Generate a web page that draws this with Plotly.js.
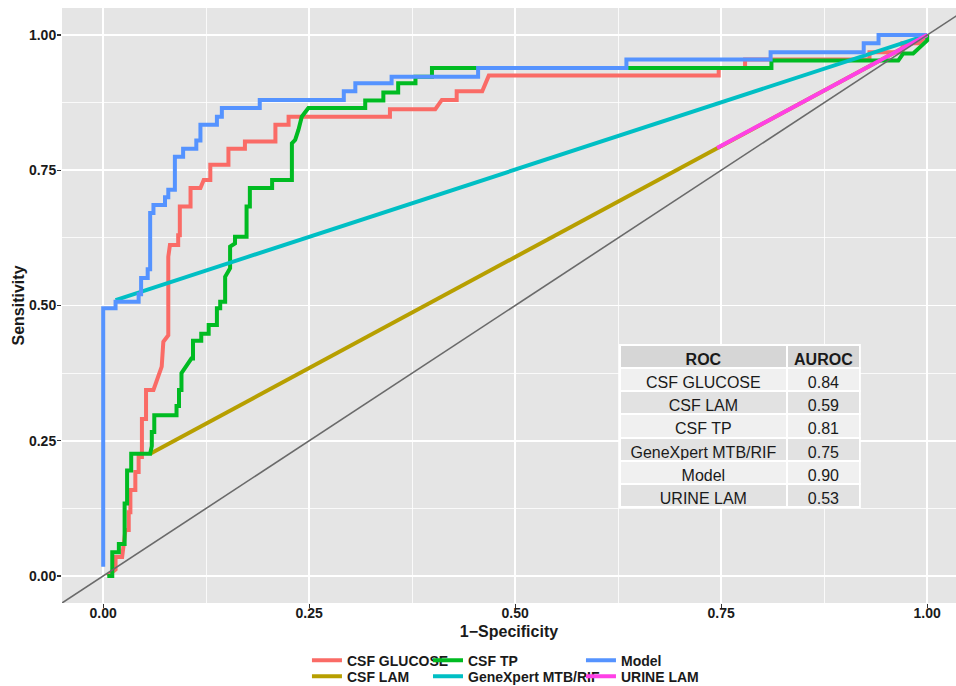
<!DOCTYPE html>
<html>
<head>
<meta charset="utf-8">
<script src="https://cdn.plot.ly/plotly-3.0.1.min.js"></script>
<style>
  html, body { margin: 0; padding: 0; background: #ffffff; }
  #chart { width: 956px; height: 686px; }
</style>
</head>
<body>
<div id="chart"></div>
<script>
// ---------- data ----------
const seriesNames = ['CSF GLUCOSE', 'CSF LAM', 'CSF TP', 'GeneXpert MTB/RIF', 'Model', 'URINE LAM'];

const glucoseFPR = [0.005, 0.015, 0.015, 0.023, 0.027, 0.031, 0.031, 0.033, 0.033, 0.039, 0.039, 0.043, 0.043, 0.047, 0.047, 0.052, 0.052, 0.061, 0.071, 0.073, 0.079, 0.079, 0.081, 0.091, 0.091, 0.093, 0.093, 0.106, 0.106, 0.118, 0.122, 0.130, 0.130, 0.152, 0.152, 0.172, 0.172, 0.209, 0.209, 0.225, 0.225, 0.348, 0.348, 0.403, 0.411, 0.429, 0.429, 0.460, 0.468, 0.747, 0.747, 0.779, 0.779, 0.930, 0.930, 0.970, 0.970, 0.990, 1];
const glucoseTPR = [0.000, 0.012, 0.035, 0.035, 0.085, 0.085, 0.118, 0.118, 0.159, 0.159, 0.192, 0.192, 0.220, 0.220, 0.290, 0.290, 0.344, 0.344, 0.387, 0.433, 0.445, 0.590, 0.612, 0.612, 0.630, 0.630, 0.683, 0.683, 0.717, 0.717, 0.732, 0.732, 0.760, 0.760, 0.790, 0.790, 0.803, 0.803, 0.834, 0.834, 0.849, 0.849, 0.863, 0.863, 0.880, 0.880, 0.896, 0.896, 0.925, 0.925, 0.939, 0.939, 0.955, 0.955, 0.968, 0.968, 0.985, 0.985, 1];

const lamFPR = [0.057, 1];
const lamTPR = [0.226, 1];

const tpFPR = [0.005, 0.011, 0.011, 0.019, 0.019, 0.026, 0.026, 0.029, 0.029, 0.034, 0.034, 0.057, 0.059, 0.059, 0.062, 0.062, 0.089, 0.089, 0.092, 0.092, 0.095, 0.095, 0.107, 0.109, 0.109, 0.119, 0.119, 0.128, 0.128, 0.138, 0.138, 0.142, 0.142, 0.148, 0.148, 0.154, 0.154, 0.160, 0.160, 0.174, 0.174, 0.178, 0.178, 0.205, 0.205, 0.229, 0.229, 0.233, 0.237, 0.241, 0.249, 0.318, 0.318, 0.340, 0.340, 0.358, 0.358, 0.379, 0.379, 0.399, 0.399, 0.811, 0.811, 0.965, 0.971, 0.983, 0.993, 1, 1];
const tpTPR  = [0.000, 0.000, 0.044, 0.044, 0.059, 0.059, 0.134, 0.134, 0.195, 0.195, 0.226, 0.226, 0.240, 0.266, 0.266, 0.297, 0.297, 0.314, 0.314, 0.344, 0.344, 0.375, 0.402, 0.402, 0.435, 0.435, 0.448, 0.448, 0.464, 0.464, 0.495, 0.495, 0.507, 0.507, 0.553, 0.569, 0.609, 0.615, 0.627, 0.627, 0.683, 0.683, 0.717, 0.717, 0.732, 0.732, 0.800, 0.806, 0.825, 0.849, 0.865, 0.865, 0.879, 0.879, 0.894, 0.894, 0.911, 0.911, 0.923, 0.923, 0.939, 0.939, 0.953, 0.953, 0.966, 0.966, 0.980, 0.990, 1];

const geneFPR = [0.015, 1];
const geneTPR = [0.510, 1];

const modelFPR = [0, 0, 0.015, 0.015, 0.043, 0.043, 0.046, 0.046, 0.054, 0.054, 0.057, 0.057, 0.061, 0.061, 0.075, 0.075, 0.079, 0.079, 0.087, 0.087, 0.097, 0.097, 0.113, 0.113, 0.118, 0.118, 0.138, 0.138, 0.144, 0.144, 0.190, 0.190, 0.292, 0.292, 0.306, 0.306, 0.350, 0.350, 0.455, 0.455, 0.635, 0.635, 0.810, 0.810, 0.923, 0.923, 0.941, 0.941, 1];
const modelTPR = [0.017, 0.495, 0.495, 0.507, 0.507, 0.521, 0.521, 0.551, 0.551, 0.567, 0.567, 0.671, 0.671, 0.686, 0.686, 0.700, 0.700, 0.714, 0.714, 0.775, 0.775, 0.790, 0.790, 0.805, 0.805, 0.834, 0.834, 0.849, 0.849, 0.865, 0.865, 0.880, 0.880, 0.896, 0.896, 0.911, 0.911, 0.923, 0.923, 0.939, 0.939, 0.955, 0.955, 0.968, 0.968, 0.985, 0.985, 1, 1];

const urineFPR = [0.745, 1];
const urineTPR = [0.791, 1];

const chanceX = [-0.1, 1.1];
const chanceY = [-0.1, 1.1];

const tableHeader = ['ROC', 'AUROC'];
const tableMethods = ['CSF GLUCOSE', 'CSF LAM', 'CSF TP', 'GeneXpert MTB/RIF', 'Model', 'URINE LAM'];
const tableAUROC = ['0.84', '0.59', '0.81', '0.75', '0.90', '0.53'];

const tickValues = [0, 0.25, 0.5, 0.75, 1];
const tickLabels = ['0.00', '0.25', '0.50', '0.75', '1.00'];
const minorTickValues = [0.125, 0.375, 0.625, 0.875];

// ---------- styling ----------
const FONT = 'Liberation Sans, Arial, Helvetica, sans-serif';
const colors = {
  'CSF GLUCOSE': '#FA6B66',
  'CSF LAM': '#B79F00',
  'CSF TP': '#00BB22',
  'GeneXpert MTB/RIF': '#00BFC4',
  'Model': '#5593FF',
  'URINE LAM': '#FF40E6'
};
// one small legend per entry so the 3x2 grid matches the reference columns
const legendOf = {
  'CSF GLUCOSE': 'legend', 'CSF LAM': 'legend2',
  'CSF TP': 'legend3', 'GeneXpert MTB/RIF': 'legend4',
  'Model': 'legend5', 'URINE LAM': 'legend6'
};

function roc(name, xs, ys) {
  return {
    type: 'scatter', mode: 'lines', name: name,
    x: xs, y: ys,
    line: { color: colors[name], width: 4 },
    legend: legendOf[name],
    hoverinfo: 'skip'
  };
}

const traces = [
  roc('CSF GLUCOSE', glucoseFPR, glucoseTPR),
  roc('CSF LAM', lamFPR, lamTPR),
  roc('CSF TP', tpFPR, tpTPR),
  roc('GeneXpert MTB/RIF', geneFPR, geneTPR),
  roc('Model', modelFPR, modelTPR),
  roc('URINE LAM', urineFPR, urineTPR),
  {
    type: 'scatter', mode: 'lines', x: chanceX, y: chanceY,
    line: { color: '#6a6a6a', width: 1.6 }, showlegend: false, hoverinfo: 'skip'
  },
  {
    type: 'table',
    domain: { x: [0.624, 0.8926], y: [0.150, 0.4336] },
    columnwidth: [167, 73],
    header: {
      values: tableHeader,
      height: 23,
      align: 'center',
      fill: { color: '#D6D6D6' },
      line: { color: '#ffffff', width: 2 },
      font: { family: FONT, size: 16, color: '#1a1a1a', weight: 'bold' }
    },
    cells: {
      values: [tableMethods, tableAUROC],
      height: 23.2,
      align: 'center',
      fill: { color: [
        tableMethods.map((_, i) => i % 2 === 0 ? '#F0F0F0' : '#E2E2E2'),
        tableMethods.map((_, i) => i % 2 === 0 ? '#F0F0F0' : '#E2E2E2')
      ] },
      line: { color: '#ffffff', width: 2 },
      font: { family: FONT, size: 16, color: '#1a1a1a' }
    }
  }
];

const axisCommon = {
  tickvals: tickValues, ticktext: tickLabels,
  showgrid: true, gridcolor: '#ffffff', gridwidth: 1.6,
  minor: { tickvals: minorTickValues, showgrid: true, gridcolor: '#ffffff', gridwidth: 0.8, ticks: '' },
  zeroline: false, showline: false,
  ticks: 'outside', ticklen: 4, tickwidth: 1.2, tickcolor: '#333333',
  tickfont: { family: FONT, size: 14, color: '#1a1a1a', weight: 'bold' },
  automargin: false, fixedrange: true
};

function legendAt(x, y) {
  return {
    orientation: 'v', xanchor: 'left', yanchor: 'top', x: x, y: y,
    bgcolor: 'rgba(0,0,0,0)', borderwidth: 0,
    font: { family: FONT, size: 14, color: '#1a1a1a', weight: 'bold' },
    itemwidth: 30
  };
}
const row1 = -0.0698, row2 = -0.0967;
const col1 = 0.274, col2 = 0.4094, col3 = 0.5805;

const layout = {
  width: 956, height: 686,
  margin: { l: 62, r: 0, t: 8, b: 83, pad: 0, autoexpand: false },
  paper_bgcolor: '#ffffff', plot_bgcolor: '#E5E5E5',
  showlegend: true,
  xaxis: Object.assign({}, axisCommon, {
    range: [-0.05, 1.035],
    ticklabelstandoff: -7,
    title: { text: '1\u2212Specificity', standoff: 6, font: { family: FONT, size: 16, color: '#1a1a1a', weight: 'bold' } }
  }),
  yaxis: Object.assign({}, axisCommon, {
    range: [-0.05, 1.05],
    ticklabelstandoff: -2,
    title: { text: 'Sensitivity', standoff: 0, font: { family: FONT, size: 16, color: '#1a1a1a', weight: 'bold' } }
  }),
  legend: legendAt(col1, row1),
  legend2: legendAt(col1, row2),
  legend3: legendAt(col2, row1),
  legend4: legendAt(col2, row2),
  legend5: legendAt(col3, row1),
  legend6: legendAt(col3, row2)
};

Plotly.newPlot('chart', traces, layout, { displayModeBar: false, staticPlot: true });
</script>
</body>
</html>
